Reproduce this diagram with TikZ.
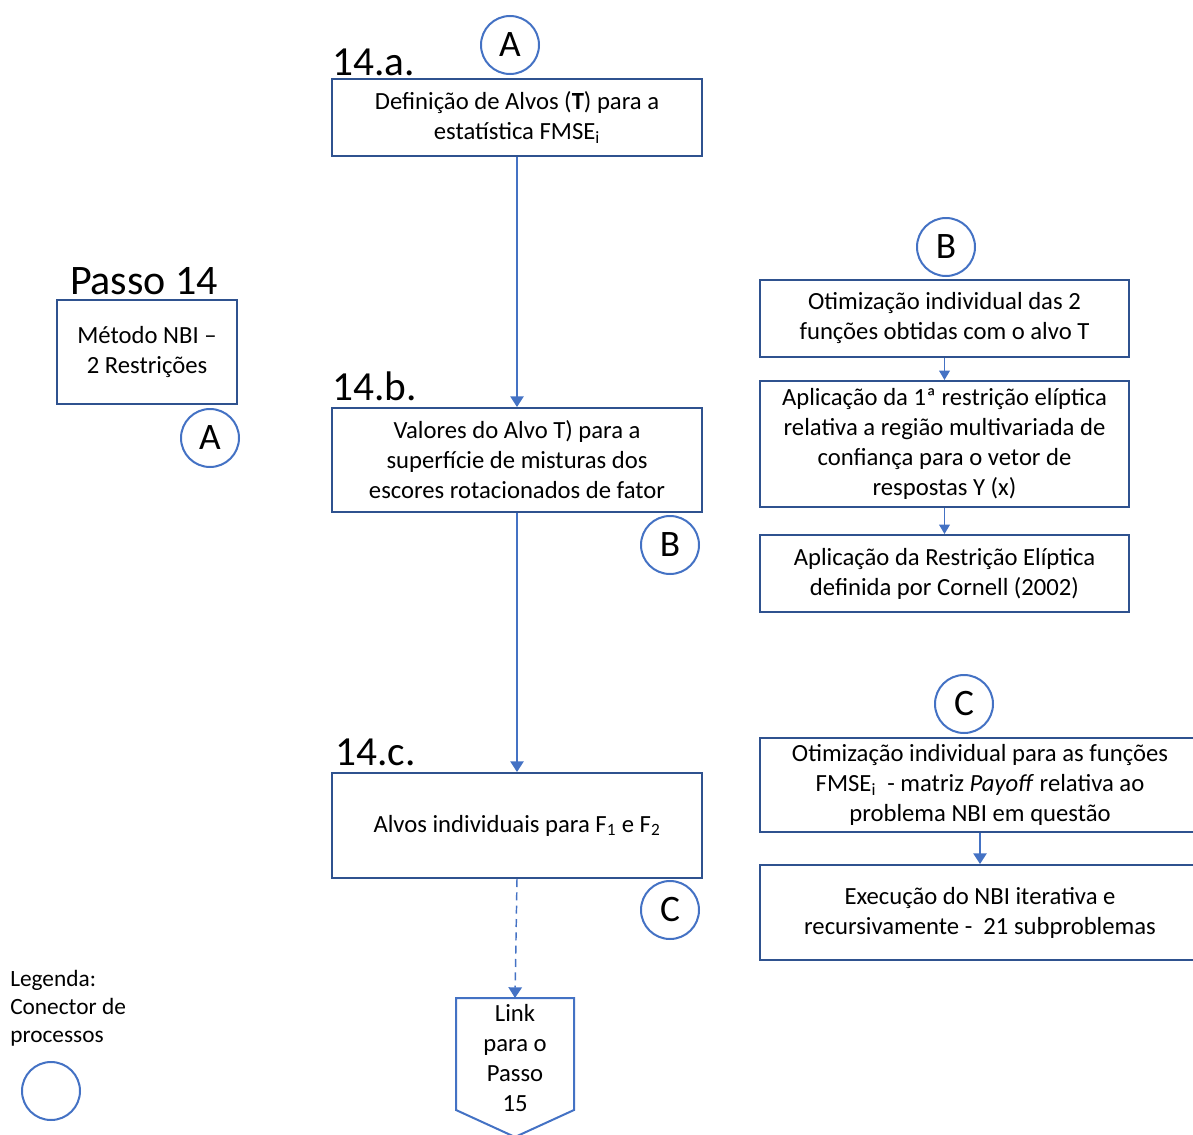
\documentclass[tikz,border=0pt]{standalone}
\usepackage{fontspec}
\setmainfont{Carlito}
\usetikzlibrary{arrows.meta}
\definecolor{boxblue}{HTML}{2F528F}
\definecolor{accblue}{HTML}{4472C4}
\tikzset{
  box/.style={draw=boxblue, line width=1.5pt, align=center, inner sep=0pt,
    font=\fontsize{18.5}{22.5}\selectfont},
  conn/.style={circle, draw=accblue, line width=1.5pt, minimum size=43.5pt,
    inner sep=0pt, font=\fontsize{28}{30}\selectfont},
  bigtxt/.style={anchor=base west, inner sep=0pt, font=\fontsize{31}{33}\selectfont},
  flow/.style={draw=accblue, line width=1.1pt, -{Triangle[width=10pt,length=8pt]}},
  flowsm/.style={draw=accblue, line width=1.1pt, -{Triangle[width=8pt,length=7pt]}}
}
\begin{document}
\begin{tikzpicture}[x=0.75pt,y=0.75pt,yscale=-1,xscale=1]
\useasboundingbox (0,0) rectangle (1193,1135);

% Passo 14
\node[anchor=base, inner sep=0pt, font=\fontsize{31.5}{33}\selectfont] (passo) at (144,294) {Passo 14};
\node[box, minimum width=135pt, minimum height=78pt] (nbi) at (147,352) {Método NBI –\\2 Restrições};
\node[conn] (ca1) at (210,438) {A};

% coluna central
\node[conn] (ca2) at (510,45) {A};
\node[bigtxt] (t14a) at (332,75) {14.a.};
\node[box, minimum width=277.5pt, minimum height=57.75pt] (defalvos) at (517,117.5) {Definição de Alvos (\textbf{T}) para a\\estatística FMSE\textsubscript{i}};

\node[bigtxt] (t14b) at (332,400) {14.b.};
\node[box, minimum width=277.5pt, minimum height=78pt] (valores) at (517,460) {Valores do Alvo T) para a\\superfície de misturas dos\\escores rotacionados de fator};
\node[conn] (cb1) at (670,545) {B};

\node[bigtxt] (t14c) at (335,765) {14.c.};
\node[box, minimum width=277.5pt, minimum height=78.75pt] (alvosind) at (517,825.5) {Alvos individuais para F\textsubscript{1} e F\textsubscript{2}};
\node[conn] (cc1) at (670,910) {C};

% link para o passo 15
\draw[draw=accblue, line width=1.5pt] (456,998) -- (574,998) -- (574,1110) -- (515,1137) -- (456,1110) -- cycle;
\coordinate (linktop) at (515,998);
\node[align=center, inner sep=0pt, font=\fontsize{18.5}{22.5}\selectfont] (link) at (515,1058) {Link\\para o\\Passo\\15};

\draw[flow] (defalvos.south) -- (valores.north);
\draw[flow] (valores.south) -- (alvosind.north);
\draw[flow, dash pattern=on 6pt off 4pt] (alvosind.south) -- (linktop);

% legenda
\node[anchor=north west, align=left, inner sep=0pt, font=\fontsize{17.5}{21}\selectfont] (legenda) at (10,970) {Legenda:\\Conector de\\processos};
\node[conn] (cleg) at (51,1091) {};

% coluna direita - B
\node[conn] (cb2) at (946,247) {B};
\node[box, minimum width=276.75pt, minimum height=57.75pt] (otim2) at (944.5,318.5) {Otimização individual das 2\\funções obtidas com o alvo T};
\node[box, minimum width=276.75pt, minimum height=94.5pt] (restr1) at (944.5,444) {Aplicação da 1ª restrição elíptica\\relativa a região multivariada de\\confiança para o vetor de\\respostas Y (x)};
\node[box, minimum width=276.75pt, minimum height=57.75pt] (cornell) at (944.5,573.5) {Aplicação da Restrição Elíptica\\definida por Cornell (2002)};
\draw[flowsm] (otim2.south) -- (restr1.north);
\draw[flowsm] (restr1.south) -- (cornell.north);

% coluna direita - C
\node[conn] (cc2) at (964,704) {C};
\node[box, minimum width=330pt, minimum height=70.5pt] (payoff) at (980,785) {Otimização individual para as funções\\FMSE\textsubscript{i}\ \ - matriz \textit{Payoff} relativa ao\\problema NBI em questão};
\node[box, minimum width=330pt, minimum height=71.25pt] (execnbi) at (980,912.5) {Execução do NBI iterativa e\\recursivamente -\ \ 21 subproblemas};
\draw[flow] (payoff.south) -- (execnbi.north);

\end{tikzpicture}
\end{document}
